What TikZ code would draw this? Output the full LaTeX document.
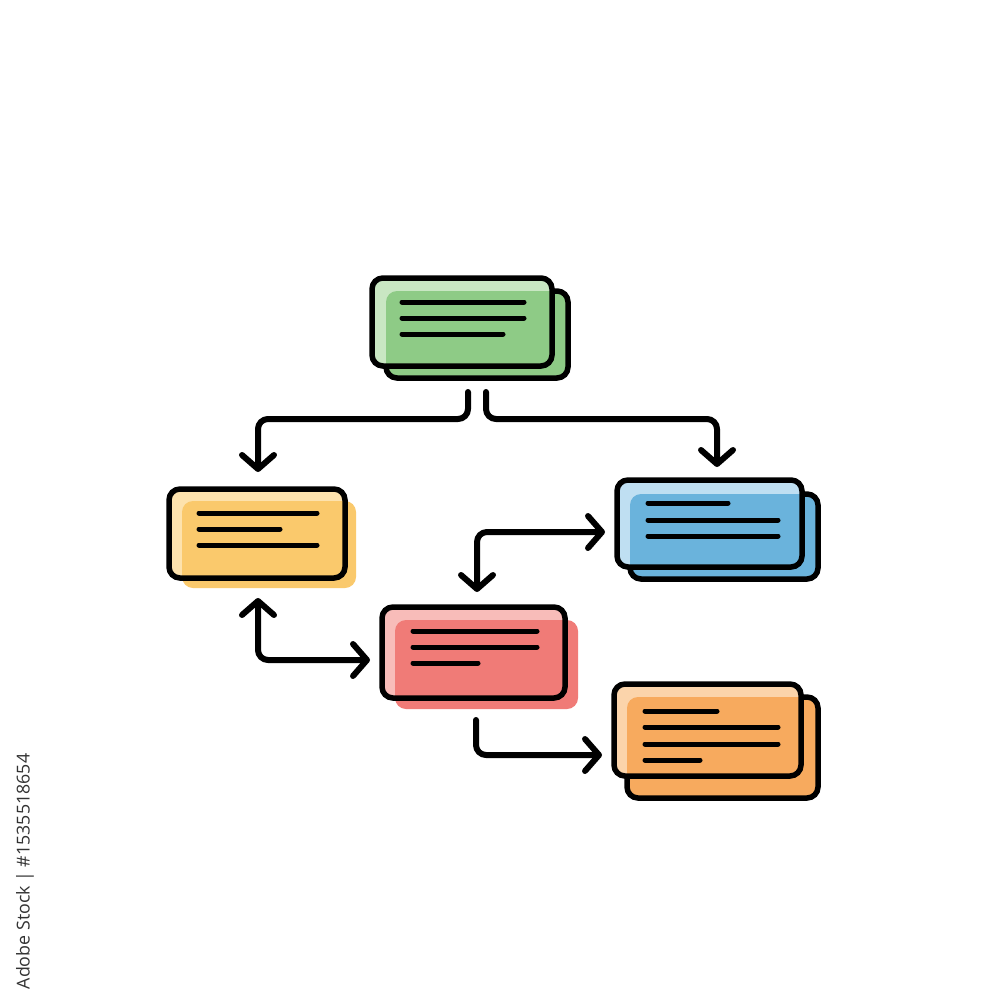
\documentclass[tikz,border=0pt]{standalone}
\usepackage{fontspec}
\newfontfamily\wmfont{Open Sans}
\usetikzlibrary{arrows.meta,calc}
\definecolor{gC}{HTML}{8ECB86}\definecolor{gL}{HTML}{C9E7C3}
\definecolor{yC}{HTML}{FAC96C}\definecolor{yL}{HTML}{FDE2AD}
\definecolor{bC}{HTML}{6AB3DC}\definecolor{bL}{HTML}{BFDFF2}
\definecolor{rC}{HTML}{F07B77}\definecolor{rL}{HTML}{F8BCB9}
\definecolor{oC}{HTML}{F7AA5E}\definecolor{oL}{HTML}{FBD4AB}
\tikzset{
  lw/.style={line width=5.5pt},
  rc/.style={rounded corners=11pt},
  cardbox/.style={draw=black, lw, rc, outer sep=0pt, inner sep=0pt},
  txtline/.style={draw=black, line width=5pt, line cap=round},
  conn/.style={draw=black, line width=6pt, line cap=round, line join=round, rounded corners=10pt},
  tip/.style={-{Straight Barb[length=14pt,width=32pt,round]}},
  dtip/.style={{Straight Barb[length=14pt,width=32pt,round]}-{Straight Barb[length=14pt,width=32pt,round]}}
}
\begin{document}
\begin{tikzpicture}[x=1pt,y=-1pt]
\useasboundingbox[fill=white] (0,0) rectangle (1000,1000);

% ---- green card
\fill[gC,rc] (386,291) rectangle (568,378);
\draw[lw,rc] (386,291) rectangle (568,378);
\fill[gL,rc] (372,278) rectangle (552,366);
\begin{scope}\clip[rc] (386,291) rectangle (568,378);
\fill[gC,rc] (372,278) rectangle (552,366);\end{scope}
\node[cardbox, minimum width=180pt, minimum height=88pt] (green) at (462,322) {};
\draw[txtline] (402,302) -- (524,302);
\draw[txtline] (402,318) -- (524,318);
\draw[txtline] (402,334) -- (503,334);

% ---- yellow card
\fill[yC,rc] (182,501) rectangle (356,588);
\fill[yL,rc] (169,489) rectangle (345,578);
\begin{scope}\clip[rc] (182,501) rectangle (356,588);
\fill[yC,rc] (169,489) rectangle (345,578);\end{scope}
\node[cardbox, minimum width=176pt, minimum height=89pt] (yellow) at (257,533.5) {};
\draw[txtline] (199,513) -- (317,513);
\draw[txtline] (199,529) -- (280,529);
\draw[txtline] (199,545) -- (317,545);

% ---- blue card
\fill[bC,rc] (630,494) rectangle (818,579);
\draw[lw,rc] (630,494) rectangle (818,579);
\fill[bL,rc] (617,480) rectangle (802,567);
\begin{scope}\clip[rc] (630,494) rectangle (818,579);
\fill[bC,rc] (617,480) rectangle (802,567);\end{scope}
\node[cardbox, minimum width=185pt, minimum height=87pt] (blue) at (709.5,523.5) {};
\draw[txtline] (648,503) -- (728,503);
\draw[txtline] (648,520) -- (778,520);
\draw[txtline] (648,536) -- (778,536);

% ---- red card
\fill[rC,rc] (395,620) rectangle (578,709);
\fill[rL,rc] (382,607) rectangle (565,698);
\begin{scope}\clip[rc] (395,620) rectangle (578,709);
\fill[rC,rc] (382,607) rectangle (565,698);\end{scope}
\node[cardbox, minimum width=183pt, minimum height=91pt] (red) at (473.5,652.5) {};
\draw[txtline] (413,631) -- (537,631);
\draw[txtline] (413,647) -- (537,647);
\draw[txtline] (413,663) -- (478,663);

% ---- orange card
\fill[oC,rc] (627,697) rectangle (818,798);
\draw[lw,rc] (627,697) rectangle (818,798);
\fill[oL,rc] (614,684) rectangle (801,776);
\begin{scope}\clip[rc] (627,697) rectangle (818,798);
\fill[oC,rc] (614,684) rectangle (801,776);\end{scope}
\node[cardbox, minimum width=187pt, minimum height=92pt] (orange) at (707.5,730) {};
\draw[txtline] (645,711) -- (717,711);
\draw[txtline] (645,727) -- (778,727);
\draw[txtline] (645,744) -- (778,744);
\draw[txtline] (645,760) -- (700,760);

% ---- connectors
\draw[conn,tip] ($(green.south)+(6,26)$) |- ($(yellow.north)+(1,-70)$) -- ($(yellow.north)+(1,-17)$);
\draw[conn,tip] ($(green.south)+(24,26)$) |- ($(blue.north)+(7.5,-61)$) -- ($(blue.north)+(7.5,-13)$);
\draw[conn,dtip] ($(red.north)+(3.5,-15)$) |- ($(blue.west)+(-12,8.5)$);
\draw[conn,dtip] ($(yellow.south)+(1,20)$) |- ($(red.west)+(-12,7.5)$);
\draw[conn,tip] ($(red.south)+(2.5,22)$) |- ($(orange.west)+(-12,25)$);

% ---- stock id
\node[rotate=90, text=black!80, font=\wmfont\fontsize{17.8}{18}\selectfont, inner sep=0pt] (stockid) at (25,871.5) {Adobe Stock | \#1535518654};
\end{tikzpicture}
\end{document}
